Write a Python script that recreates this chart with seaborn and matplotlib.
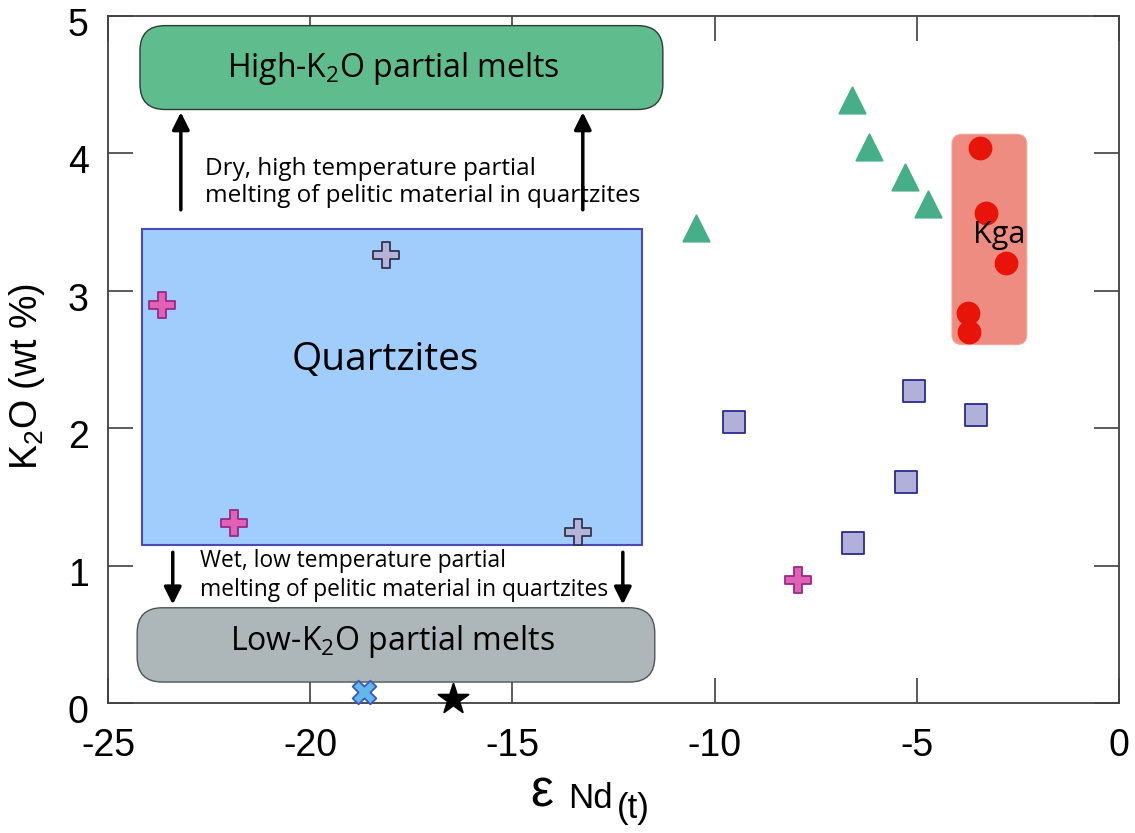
import matplotlib
matplotlib.use("Agg")
import matplotlib.pyplot as plt
import matplotlib.transforms as mtransforms
from matplotlib.patches import FancyBboxPatch
import seaborn as sns
import pandas as pd

sns.set_theme(style="ticks")
plt.rcParams["font.family"] = ["Liberation Sans", "DejaVu Sans"]
plt.rcParams["mathtext.default"] = "regular"
plt.rcParams["axes.unicode_minus"] = False
for k in ["text.color", "axes.labelcolor", "xtick.labelcolor", "ytick.labelcolor"]:
    plt.rcParams[k] = "black"

# --- data (eps Nd(t) vs K2O wt %) ---
tri_x = [-6.60, -6.19, -5.30, -4.73, -10.46]
tri_y = [4.39, 4.05, 3.83, 3.63, 3.46]
kga_x = [-3.44, -3.30, -2.80, -3.74, -3.72]
kga_y = [4.04, 3.57, 3.20, 2.84, 2.70]
sq_x = [-9.52, -5.07, -3.54, -5.27, -6.58]
sq_y = [2.05, 2.27, 2.10, 1.61, 1.17]
pink_x = [-23.67, -21.88, -7.94]
pink_y = [2.90, 1.31, 0.90]
lav_x = [-18.13, -13.38]
lav_y = [3.26, 1.25]
xmark_x = [-18.67]
xmark_y = [0.08]
star_x = [-16.47]
star_y = [0.03]

# fields: (x0, y0, width, height) in data units
high_field = (-24.21, 4.32, 12.93, 0.61)
quartz_field = (-24.16, 1.15, 12.36, 2.30)
low_field = (-24.28, 0.156, 12.80, 0.54)
kga_field = (-4.13, 2.61, 1.85, 1.53)

xticks = [-25, -20, -15, -10, -5, 0]
yticks = [0, 1, 2, 3, 4, 5]

fig = plt.figure(figsize=(11.35, 8.33), dpi=100)
ax = fig.add_axes([0.0952, 0.1555, 0.8907, 0.8253])
ax.set_xlim(-25, 0)
ax.set_ylim(0, 5)

# aspect correction so rounded corners look round on screen
asp = (0.8253 * 8.33 / 5) / (0.8907 * 11.35 / 25)
anno = ["Open Sans", "DejaVu Sans"]


def field(box, fc, ec, lw, r, z):
    x0, y0, w, h = box
    p = FancyBboxPatch((x0, y0), w, h, boxstyle=f"round,pad=0,rounding_size={r}",
                       mutation_aspect=1 / asp, fc=fc, ec=ec, lw=lw, zorder=z)
    ax.add_patch(p)


field(high_field, "#5fbd8d", "#2d3b33", 1.0, 0.62, 1)
field(low_field, "#adb6b9", "#4d5558", 1.0, 0.62, 1)
x0, y0, w, h = quartz_field
ax.add_patch(plt.Rectangle((x0, y0), w, h, fc="#a0cdfc", ec="#4a4ab4", lw=1.5, zorder=1))
field(kga_field, "#ef8c82", "#f2a49b", 0.8, 0.25, 1)

# arrows
for xa in [-23.2, -13.26]:
    ax.annotate("", xy=(xa, 4.32), xytext=(xa, 3.57),
                arrowprops=dict(arrowstyle="-|>", lw=2.5, color="black", mutation_scale=26))
for xa in [-23.4, -12.27]:
    ax.annotate("", xy=(xa, 0.70), xytext=(xa, 1.12),
                arrowprops=dict(arrowstyle="-|>", lw=2.5, color="black", mutation_scale=26))

# points
pts = [
    (tri_x, tri_y, "^", "#46ae88", "#46ae88", 360),
    (kga_x, kga_y, "o", "#e8140a", "#e8140a", 250),
    (sq_x, sq_y, "s", "#b0b0d8", "#2a2a90", 260),
    (pink_x, pink_y, "P", "#e062b4", "#98288a", 330),
    (lav_x, lav_y, "P", "#b4b4da", "#33334d", 330),
    (xmark_x, xmark_y, "X", "#62b8e8", "#3a56c0", 290),
    (star_x, star_y, "*", "black", "black", 520),
]
for xs, ys, m, fc, ec, s in pts:
    df = pd.DataFrame({"x": xs, "y": ys})
    sns.scatterplot(data=df, x="x", y="y", marker=m, color=fc, edgecolor=ec,
                    linewidth=1.3, s=s, ax=ax, zorder=3, clip_on=False)

# labels in the fields
ax.text(-17.95, 4.62, "High-K$_2$O partial melts", ha="center", va="center",
        fontsize=23, family=anno, zorder=4)
ax.text(-17.98, 0.45, "Low-K$_2$O partial melts", ha="center", va="center",
        fontsize=23, family=anno, zorder=4)
ax.text(-18.15, 2.50, "Quartzites", ha="center", va="center",
        fontsize=28, family=anno, zorder=4)
ax.text(-2.97, 3.41, "Kga", ha="center", va="center", fontsize=22, family=anno, zorder=4)
ax.text(-22.6, 3.79, "Dry, high temperature partial\nmelting of pelitic material in quartzites",
        ha="left", va="center", fontsize=17.5, family=anno, linespacing=1.2, zorder=4)
ax.text(-22.73, 0.93, "Wet, low temperature partial\nmelting of pelitic material in quartzites",
        ha="left", va="center", fontsize=16.4, family=anno, linespacing=1.25, zorder=4)

ax.set_xticks(xticks)
ax.set_yticks(yticks)
ax.tick_params(direction="in", length=18, width=1.2, top=True, right=True,
               labelsize=27, color="#404040")
ax.tick_params(axis="x", pad=18)
ax.tick_params(axis="y", pad=14)
shift = mtransforms.ScaledTranslation(0, -6 / 100, fig.dpi_scale_trans)
for lab in ax.get_yticklabels():
    lab.set_transform(lab.get_transform() + shift)
for sp in ax.spines.values():
    sp.set_color("#404040")
    sp.set_linewidth(1.3)

ax.set_ylabel("K$_2$O (wt %)", fontsize=27)
ax.yaxis.set_label_coords(-0.06, 0.476)
ax.set_xlabel("")
ax.text(0.4285, -0.1505, "ε", transform=ax.transAxes, ha="center", va="baseline", fontsize=37)
ax.text(0.455, -0.152, "Nd", transform=ax.transAxes, ha="left", va="baseline", fontsize=25)
ax.text(0.503, -0.166, "(t)", transform=ax.transAxes, ha="left", va="baseline", fontsize=25)

fig.savefig("out.png", dpi=100)
